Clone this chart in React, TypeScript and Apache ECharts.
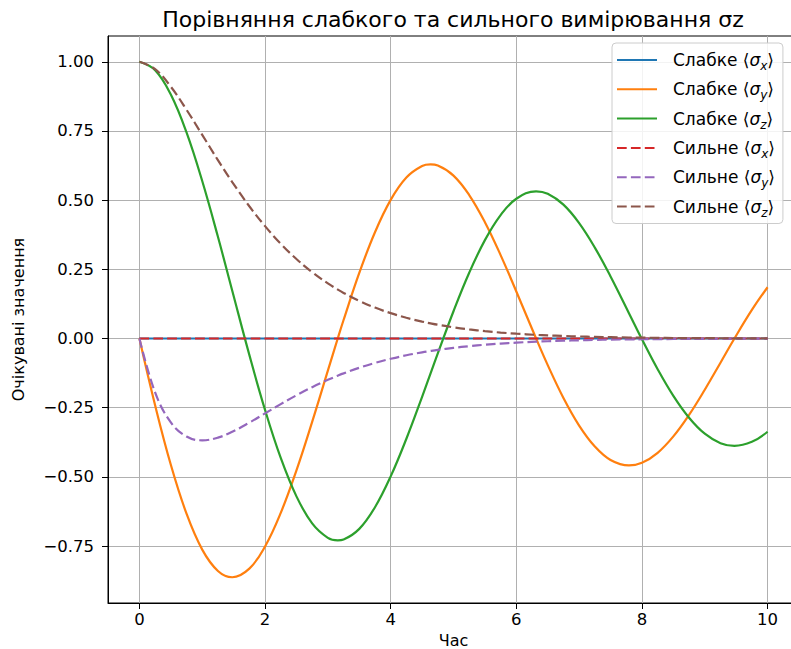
import React, { useEffect, useRef } from "react";
import * as echarts from "echarts";

// sample times (0.25 grid, with the turning points of the weak curves)
const times = [
  0, 0.25, 0.5, 0.75, 1, 1.25, 1.478, 1.75, 2, 2.25, 2.5, 2.75, 3, 3.157, 3.25, 3.5, 3.75, 4, 4.25,
  4.5, 4.635, 4.75, 5, 5.25, 5.5, 5.75, 6, 6.315, 6.5, 6.75, 7, 7.25, 7.5, 7.793, 8, 8.25,
  8.5, 8.75, 9, 9.25, 9.472, 9.75, 10,
];

const weakSx = [
  0, 0, 0, 0, 0, 0, 0, 0, 0, 0, 0, 0, 0, 0, 0, 0, 0, 0, 0, 0, 0, 0,
  0, 0, 0, 0, 0, 0, 0, 0, 0, 0, 0, 0, 0, 0, 0, 0, 0, 0, 0, 0, 0,
];

const weakSy = [
  0, -0.2413, -0.4562, -0.633, -0.7628, -0.8399, -0.8626, -0.8315, -0.7516, -0.6301, -0.4763,
  -0.3011, -0.1161, 0.0, 0.0668, 0.2368, 0.3841, 0.5009, 0.5817, 0.6232, 0.629, 0.625, 0.5887, 0.5185,
  0.4203, 0.3014, 0.17, 0.0, -0.0961, -0.2147, -0.3145, -0.3902, -0.4388, -0.4587,
  -0.4491, -0.413, -0.3537, -0.2759, -0.185, -0.0874, 0.0, 0.1034, 0.1853,
];

const weakSz = [
  1.0, 0.9694, 0.8815, 0.7445, 0.569, 0.3675, 0.1725, -0.0592, -0.2581, -0.4316, -0.5704,
  -0.6679, -0.7201, -0.7292, -0.7261, -0.6878, -0.6097, -0.4983, -0.3622, -0.2108, -0.1258, -0.0539,
  0.0985, 0.2376, 0.3555, 0.446, 0.5051, 0.5318, 0.5228, 0.4836, 0.417, 0.3286, 0.2242,
  0.0917, -0.0026, -0.1109, -0.2071, -0.2861, -0.344, -0.3781, -0.3878, -0.3732,
  -0.3369,
];

const strongSx = [
  0, 0, 0, 0, 0, 0, 0, 0, 0, 0, 0, 0, 0, 0, 0, 0, 0, 0, 0, 0, 0, 0,
  0, 0, 0, 0, 0, 0, 0, 0, 0, 0, 0, 0, 0, 0, 0, 0, 0, 0, 0, 0, 0,
];

const strongSy = [
  0, -0.1947, -0.3033, -0.3543, -0.3679, -0.3581, -0.3371, -0.3041, -0.2707, -0.2371,
  -0.2052, -0.1758, -0.1494, -0.1344, -0.126, -0.1057, -0.0882, -0.0733, -0.0606, -0.05, -0.045,
  -0.0411, -0.0337, -0.0276, -0.0225, -0.0183, -0.0149, -0.0114, -0.0098, -0.0079, -0.0064,
  -0.0051, -0.0041, -0.0032, -0.0027, -0.0022, -0.0017, -0.0014, -0.0011, -0.0009, -0.0007,
  -0.0006, -0.0005,
];

const strongSz = [
  1.0, 0.9735, 0.9098, 0.8266, 0.7358, 0.6446, 0.5652, 0.4779, 0.406, 0.3425, 0.2873, 0.2397,
  0.1991, 0.1769, 0.1648, 0.1359, 0.1117, 0.0916, 0.0749, 0.0611, 0.0547, 0.0497, 0.0404, 0.0328,
  0.0266, 0.0215, 0.0174, 0.0132, 0.0113, 0.0091, 0.0073, 0.0059, 0.0047, 0.0036,
  0.003, 0.0024, 0.0019, 0.0016, 0.0012, 0.001, 0.0008, 0.0006, 0.0005,
];

const xTicks = [0, 2, 4, 6, 8, 10];
const yTicks = [-0.75, -0.5, -0.25, 0, 0.25, 0.5, 0.75, 1.0];

const seriesNames = [
  "Слабке ⟨σx⟩",
  "Слабке ⟨σy⟩",
  "Слабке ⟨σz⟩",
  "Сильне ⟨σx⟩",
  "Сильне ⟨σy⟩",
  "Сильне ⟨σz⟩",
];
const seriesColors = ["#1f77b4", "#ff7f0e", "#2ca02c", "#d62728", "#9467bd", "#8c564b"];

const titleText = "Порівняння слабкого та сильного вимірювання σz";
const xName = "Час";
const yName = "Очікувані значення";

const FONT = "DejaVu Sans";

function pairs(vals: number[]) {
  return times.map((t, i) => [t, vals[i]]);
}

export default function App() {
  const ref = useRef<HTMLDivElement>(null);

  useEffect(() => {
    const chart = echarts.init(ref.current!, null, { renderer: "svg" });
    const dash = [9.7, 4.2];
    const allData = [weakSx, weakSy, weakSz, strongSx, strongSy, strongSz];
    const series = allData.map((d, i) => ({
      name: seriesNames[i],
      type: "line",
      data: pairs(d),
      symbol: "none",
      showSymbol: false,
      smooth: 0.4,
      lineStyle: { color: seriesColors[i], width: 2.2, type: i >= 3 ? dash : "solid" },
      itemStyle: { color: seriesColors[i] },
      emphasis: { disabled: true },
      z: 2 + i,
    }));

    chart.setOption({
      animation: false,
      backgroundColor: "#ffffff",
      title: {
        text: titleText,
        left: 453,
        top: 8,
        padding: 0,
        textAlign: "center",
        textStyle: { fontFamily: FONT, fontSize: 22, fontWeight: "normal", color: "#000" },
      },
      grid: {
        left: 108,
        top: 36,
        width: 691,
        height: 567,
        containLabel: false,
        outerBoundsMode: "none",
        show: true,
        borderColor: "#000",
        borderWidth: 1,
        backgroundColor: "transparent",
      },
      legend: {
        orient: "vertical",
        left: 612,
        top: 43,
        padding: [5, 8, 5, 4],
        itemGap: 5.3,
        itemWidth: 40,
        itemHeight: 14,
        selectedMode: false,
        backgroundColor: "rgba(255,255,255,0.85)",
        borderColor: "#cccccc",
        borderWidth: 1,
        borderRadius: 4,
        itemStyle: { opacity: 0 },
        data: seriesNames,
        formatter: (name: string) => name.replace(/σ([xyz])/, "{it|σ}{sub|$1}"),
        textStyle: {
          fontFamily: FONT,
          fontSize: 17,
          color: "#000",
          lineHeight: 24,
          padding: [0, 0, 0, 11],
          rich: {
            it: { fontFamily: FONT, fontSize: 17, fontStyle: "italic", color: "#000", lineHeight: 24 },
            sub: {
              fontFamily: FONT,
              fontSize: 12,
              fontStyle: "italic",
              color: "#000",
              lineHeight: 14,
              verticalAlign: "bottom",
            },
          },
        },
      },
      xAxis: {
        type: "value",
        min: -0.5,
        max: 10.5,
        name: xName,
        nameLocation: "middle",
        nameGap: 27,
        nameTextStyle: { fontFamily: FONT, fontSize: 16, color: "#000", lineHeight: 16 },
        axisLine: { show: true, onZero: false, lineStyle: { color: "#000", width: 1 } },
        axisTick: { show: true, customValues: xTicks, length: 6, lineStyle: { color: "#000", width: 1 } },
        axisLabel: {
          customValues: xTicks,
          fontFamily: FONT,
          fontSize: 16.5,
          color: "#000",
          margin: 8,
          formatter: (v: number) => String(v),
        },
        splitLine: { show: true, lineStyle: { color: "#b0b0b0", width: 1 } },
      },
      yAxis: {
        type: "value",
        min: -0.9557,
        max: 1.0931,
        name: yName,
        nameLocation: "middle",
        nameGap: 82,
        nameRotate: 90,
        nameTextStyle: { fontFamily: FONT, fontSize: 16, color: "#000" },
        axisLine: { show: true, onZero: false, lineStyle: { color: "#000", width: 1 } },
        axisTick: { show: true, customValues: yTicks, length: 6, lineStyle: { color: "#000", width: 1 } },
        axisLabel: {
          customValues: yTicks,
          fontFamily: FONT,
          fontSize: 16.5,
          color: "#000",
          margin: 14,
          formatter: (v: number) => (v < 0 ? "\u2212" + (-v).toFixed(2) : v.toFixed(2)),
        },
        splitLine: { show: true, lineStyle: { color: "#b0b0b0", width: 1 } },
      },
      series,
    });

    return () => chart.dispose();
  }, []);

  return (
    <div
      ref={ref}
      style={{ position: "absolute", left: 0, top: 0, width: 791, height: 649 }}
    />
  );
}
